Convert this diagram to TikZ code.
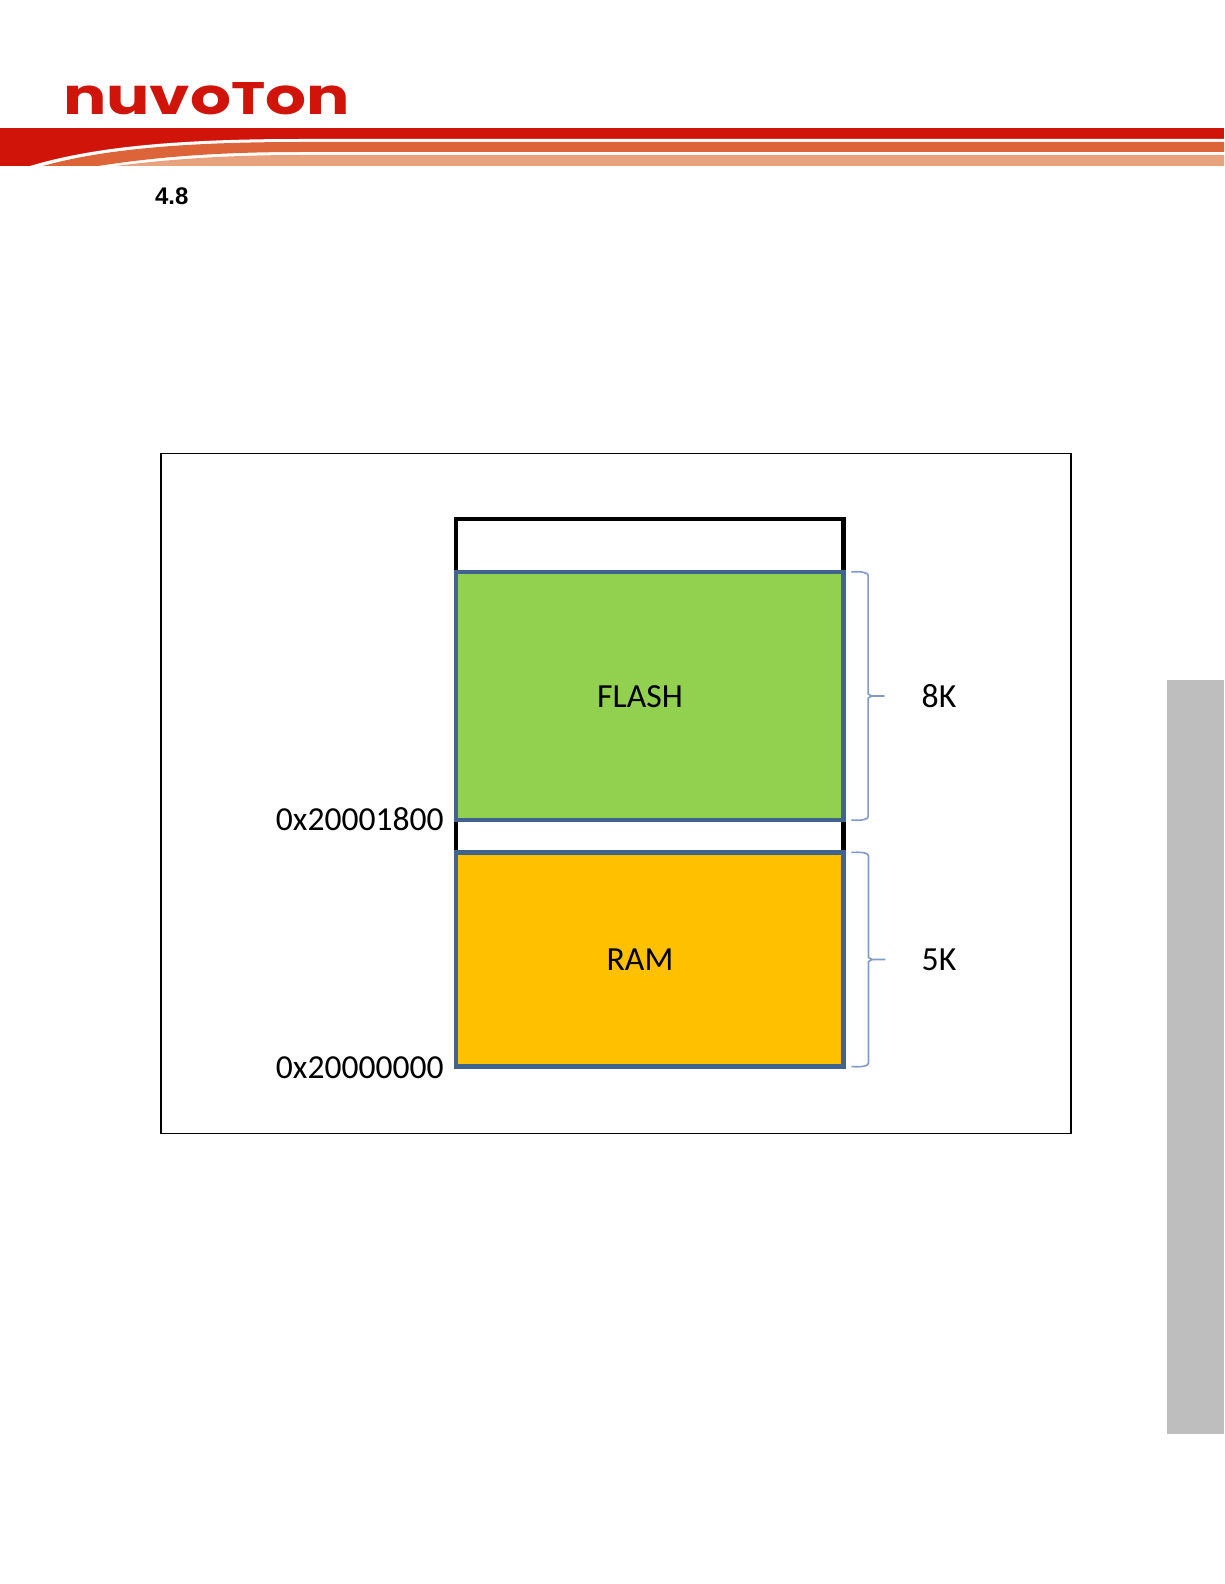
\documentclass[tikz,border=0pt]{standalone}
\usepackage{fontspec}
\usepackage{graphicx}
\setmainfont{Carlito}
\newfontfamily\secfont{Liberation Sans}
\newfontfamily\logofont{Poppins}
\definecolor{nured}{HTML}{D0140A}
\definecolor{nuorange}{HTML}{DC6438}
\definecolor{nulight}{HTML}{E8A37E}
\definecolor{memblue}{HTML}{41648F}
\definecolor{memgreen}{HTML}{92D050}
\definecolor{memgold}{HTML}{FFC000}
\definecolor{bracecol}{HTML}{7F9BC8}
\definecolor{sidegrey}{HTML}{BEBEBE}
\tikzset{
  memblock/.style={draw=memblue,line width=3.3pt,inner sep=0pt,outer sep=0pt,anchor=north west},
  emptyblock/.style={draw=black,line width=3.3pt,inner sep=0pt,outer sep=0pt,anchor=north west},
  lbl/.style={font=\fontsize{25.3}{30}\selectfont,inner sep=0pt,text=black},
  addr/.style={font=\fontsize{25.2}{30}\selectfont,inner sep=0pt,anchor=east,text=black},
  bracepath/.style={draw=bracecol,line width=1.2pt,line join=round},
}
\begin{document}
\begin{tikzpicture}[x=0.75pt,y=-0.75pt]
\useasboundingbox (0,0) rectangle (1224,1584);
% header band
\fill[nured] (0,128.5) rectangle (1224,166);
\fill[white] (30,166) .. controls (90,148) and (170,139) .. (300,139) -- (1224,139) -- (1224,166) -- cycle;
\fill[nuorange] (43,166) .. controls (100,150) and (180,142) .. (300,142) -- (1224,142) -- (1224,152) -- (300,152) .. controls (210,152) and (150,158) .. (98,166) -- cycle;
\fill[nulight] (116,166) .. controls (170,159) and (230,155) .. (300,155) -- (1224,155) -- (1224,166) -- cycle;
\node[inner sep=0pt,outer sep=0pt,anchor=south west,text=nured] (logotext) at (63,115)
  {\resizebox{215pt}{24pt}{\logofont\bfseries\fontsize{20}{24}\selectfont nuvo{\fontsize{18}{24}\selectfont T}on}};
\node[inner sep=0pt,outer sep=0pt,anchor=west,font=\secfont\bfseries\fontsize{18}{21}\selectfont] (sec) at (155,196) {4.8};
% frame and side tab
\node[draw=black,line width=0.8pt,inner sep=0pt,outer sep=0pt,anchor=north west,minimum width=682.5pt,minimum height=510.3pt] (frame) at (161,453.5) {};
\fill[sidegrey] (1167,680) rectangle (1224,1434);
% memory blocks
\node[emptyblock,minimum width=290.6pt,minimum height=40pt] (top) at (456,519) {};
\node[emptyblock,minimum width=290.6pt,minimum height=24.7pt] (gap) at (456,819.5) {};
\node[memblock,fill=memgreen,minimum width=290.6pt,minimum height=186pt] (flash) at (456,572) {};
\node[memblock,fill=memgold,minimum width=290.6pt,minimum height=160.5pt] (ram) at (456,852.5) {};
\node[lbl] (flashlbl) at (640,696.5) {FLASH};
\node[lbl] (ramlbl) at (640,959.5) {RAM};
\node[addr] (addra) at (444,819) {0x20001800};
\node[addr] (addrb) at (444,1068) {0x20000000};
\node[lbl] (eightk) at (939,696.5) {8K};
\node[lbl] (fivek) at (939,959.5) {5K};
% braces
\draw[bracepath] ([xshift=6pt]flash.north east) .. controls ([xshift=12pt,yshift=0.5pt]flash.north east) and ([xshift=18.5pt]flash.north east) .. ([xshift=18.5pt,yshift=-2.5pt]flash.north east)
  -- ([xshift=18.5pt,yshift=1.5pt]flash.east) .. controls ([xshift=19.5pt]flash.east) .. ([xshift=30.5pt]flash.east)
  .. controls ([xshift=19.5pt]flash.east) .. ([xshift=18.5pt,yshift=-1.5pt]flash.east)
  -- ([xshift=18.5pt,yshift=2.5pt]flash.south east) .. controls ([xshift=18.5pt]flash.south east) and ([xshift=12pt,yshift=-0.5pt]flash.south east) .. ([xshift=6pt]flash.south east);
\draw[bracepath] ([xshift=6pt]ram.north east) .. controls ([xshift=12pt,yshift=0.5pt]ram.north east) and ([xshift=18.8pt]ram.north east) .. ([xshift=18.8pt,yshift=-2.5pt]ram.north east)
  -- ([xshift=18.8pt,yshift=1.5pt]ram.east) .. controls ([xshift=19.8pt]ram.east) .. ([xshift=31pt]ram.east)
  .. controls ([xshift=19.8pt]ram.east) .. ([xshift=18.8pt,yshift=-1.5pt]ram.east)
  -- ([xshift=18.8pt,yshift=2.5pt]ram.south east) .. controls ([xshift=18.8pt]ram.south east) and ([xshift=12pt,yshift=-0.5pt]ram.south east) .. ([xshift=6pt]ram.south east);
\end{tikzpicture}
\end{document}
